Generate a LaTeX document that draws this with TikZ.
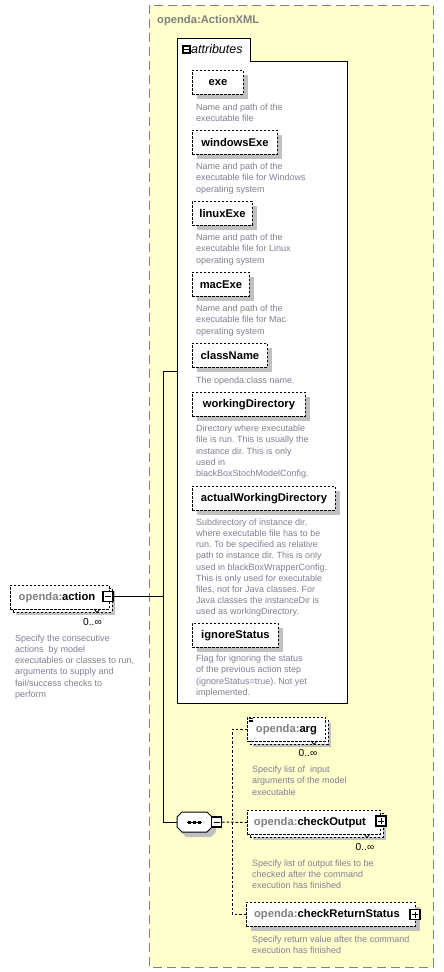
\documentclass[tikz,border=0pt]{standalone}
\usepackage{fontspec}
\setmainfont{Liberation Sans}
\usetikzlibrary{shadows}
\frenchspacing
\definecolor{bgyellow}{RGB}{255,255,204}
\definecolor{descgray}{RGB}{128,128,150}
\definecolor{pfxgray}{RGB}{128,128,128}
\definecolor{shadowgray}{RGB}{192,192,192}
\definecolor{framegray}{RGB}{128,128,128}
\newcommand{\namefont}{\fontsize{11.2}{13}\selectfont\bfseries}
\newcommand{\descfont}{\fontsize{9}{11.2}\selectfont}
\newcommand{\pfx}[1]{\textcolor{pfxgray}{#1}}
\tikzset{
  frame/.style={draw=framegray, line width=1pt, dash pattern=on 9pt off 5pt, fill=bgyellow},
  attrbox/.style={draw=black, line width=1pt, fill=white},
  elem/.style={anchor=north west, draw=black, line width=0.9pt, dash pattern=on 2.2pt off 1.8pt,
    fill=white, inner sep=0pt, minimum height=24pt, font=\namefont, text=black,
    drop shadow={shadow xshift=4.5pt, shadow yshift=-4.5pt, fill=shadowgray, opacity=1}},
  multielem/.style={anchor=north west, draw=black, line width=0.9pt, dash pattern=on 2.2pt off 1.8pt,
    fill=white, inner sep=0pt, minimum height=24pt, font=\namefont, text=black,
    drop shadow={shadow xshift=6pt, shadow yshift=-6pt, fill=shadowgray, opacity=1},
    general shadow={shadow xshift=2.5pt, shadow yshift=-2.5pt, draw=black, fill=white,
      line width=0.9pt, dash pattern=on 2.2pt off 1.8pt}},
  desc/.style={anchor=north west, align=left, inner sep=0pt, font=\descfont, text=descgray,
    execute at begin node={\rule{0pt}{7pt}}},
  card/.style={anchor=center, inner sep=0pt, font=\fontsize{10.2}{12}\selectfont, text=black},
  pm/.style={draw=black, line width=1.1pt, fill=white, minimum size=10pt, inner sep=0pt, anchor=center},
  pminus/.style={pm, path picture={\draw[line width=0.9pt] ([xshift=2pt]path picture bounding box.west) -- ([xshift=-2pt]path picture bounding box.east);}},
  pplus/.style={pm, path picture={\draw[line width=0.9pt] ([xshift=2pt]path picture bounding box.west) -- ([xshift=-2pt]path picture bounding box.east);
      \draw[line width=0.9pt] ([yshift=-2pt]path picture bounding box.north) -- ([yshift=2pt]path picture bounding box.south);}},
  conn/.style={draw=black, line width=1pt},
  dconn/.style={draw=black, line width=1pt, dash pattern=on 2.5pt off 2pt},
  notch/.style={draw=black, line width=0.8pt},
}
\begin{document}
\begin{tikzpicture}[x=1pt,y=-1pt]
\useasboundingbox (0,0) rectangle (444,972);
\fill[white] (0,0) rectangle (444,972);

% outer complex type frame
\draw[frame] (149,5) rectangle (433,967);
\node[anchor=base west, inner sep=0pt, font=\namefont, text=pfxgray] (title) at (157,23) {openda:ActionXML};

% attributes box
\draw[attrbox] (177,703) -- (177,38) -- (250,38) -- (250,61) -- (347,61) -- (347,703) -- cycle;
\node[draw=black, line width=1.5pt, fill=white, minimum size=7pt, inner sep=0pt,
  path picture={\draw[line width=0.9pt] ([xshift=1pt]path picture bounding box.west) -- ([xshift=-1pt]path picture bounding box.east);}]
  (attrminus) at (186.5,49.5) {};
\node[anchor=west, inner sep=0pt, font=\fontsize{12.5}{14}\selectfont\itshape] (attrlbl) at (191,49.5) {attributes};
\coordinate (attrL) at (177,371);

% attributes
\node[elem, minimum width=51pt] (exe) at (192,70) {exe};
\node[desc] (exed) at (196,103.5) {Name and path of the\\executable file};

\node[elem, minimum width=85pt] (win) at (192,130) {windowsExe};
\node[desc] (wind) at (196,163) {Name and path of the\\executable file for Windows\\operating system};

\node[elem, minimum width=60pt] (lin) at (192,201) {linuxExe};
\node[desc] (lind) at (196,234) {Name and path of the\\executable file for Linux\\operating system};

\node[elem, minimum width=57pt] (mac) at (192,272) {macExe};
\node[desc] (macd) at (196,305) {Name and path of the\\executable file for Mac\\operating system};

\node[elem, minimum width=75pt] (cls) at (192,343) {className};
\node[desc] (clsd) at (196,376.5) {The openda:class name.};

\node[elem, minimum width=113pt] (wd) at (192,392) {workingDirectory};
\node[desc] (wdd) at (196,425) {Directory where executable\\file is run. This is usually the\\instance dir. This is only\\used in\\blackBoxStochModelConfig.};

\node[elem, minimum width=143pt] (awd) at (192,486) {actualWorkingDirectory};
\node[desc] (awdd) at (196,518.5) {Subdirectory of instance dir,\\where executable file has to be\\run. To be specified as relative\\path to instance dir. This is only\\used in blackBoxWrapperConfig.\\This is only used for executable\\files, not for Java classes. For\\Java classes the instanceDir is\\used as workingDirectory.};

\node[elem, minimum width=86pt] (ign) at (192,623) {ignoreStatus};
\node[desc] (ignd) at (196,655) {Flag for ignoring the status\\of the previous action step\\(ignoreStatus=true). Not yet\\implemented.};

% root element
\node[multielem, minimum width=99pt] (act) at (10,585) {\pfx{openda:}action\hspace*{6pt}};
\draw[notch] (94,609) -- (97,612.5) -- (100,609);
\node[pminus] (actminus) at (108,596.5) {};
\node[card] (actcard) at (92.5,622) {0..∞};
\node[desc] (actd) at (15,634.5) {Specify the consecutive\\actions\ \ by model\\executables or classes to run,\\arguments to supply and\\fail/success checks to\\perform};

% sequence compositor
\fill[shadowgray] (181,822) -- (186,817) -- (211,817) -- (216,822) -- (216,832) -- (211,837) -- (186,837) -- (181,832) -- cycle;
\draw[fill=white, line width=1pt] (177,817) -- (182,812) -- (207,812) -- (212,817) -- (212,827) -- (207,832) -- (182,832) -- (177,827) -- cycle;
\node[inner sep=0pt, minimum width=35pt, minimum height=20pt] (seq) at (194.5,822) {};
\draw[line width=1pt] (187,822) -- (202,822);
\foreach \xx in {189.5,194.5,199.5} \fill (\xx-1.5,820.5) rectangle (\xx+1.5,823.5);
\node[pminus] (seqminus) at (216.5,822) {};

% child elements
\node[multielem, minimum width=78pt] (arg) at (247,717) {\pfx{openda:}arg};
\draw[line width=0.7pt] (248.5,718.5) -- (253,718.5) (248.5,720) -- (253,720) (248.5,721.5) -- (253,721.5);
\draw[notch] (311,741) -- (314,744.5) -- (317,741);
\node[card] (argcard) at (308,753) {0..∞};
\node[desc] (argd) at (252,766) {Specify list of\ \ input\\arguments of the model\\executable};

\node[multielem, minimum width=133pt] (co) at (247,810) {\pfx{openda:}checkOutput\hspace*{8pt}};
\draw[notch] (364,834) -- (367,837.5) -- (370,834);
\node[pplus] (coplus) at (381,821) {};
\node[card] (cocard) at (365,847) {0..∞};
\node[desc] (cod) at (252,859.5) {Specify list of output files to be\\checked after the command\\execution has finished};

\node[elem, minimum width=169pt] (crs) at (246,902) {\pfx{openda:}checkReturnStatus\hspace*{8pt}};
\node[pplus] (crsplus) at (415,914.5) {};
\node[desc] (crsd) at (252,935.5) {Specify return value after the command\\execution has finished};

% connectors
\coordinate (vtop) at (163,371);
\coordinate (dx) at (232,822);
\draw[conn] (actminus.east) -- (actminus.east -| vtop);
\draw[conn] (attrL) -- (vtop) -- (vtop |- seq.west) -- (seq.west);
\draw[dconn] (seqminus.east) -- (co.west);
\draw[dconn] (arg.west) -| (dx) |- (crs.west);
\end{tikzpicture}
\end{document}
